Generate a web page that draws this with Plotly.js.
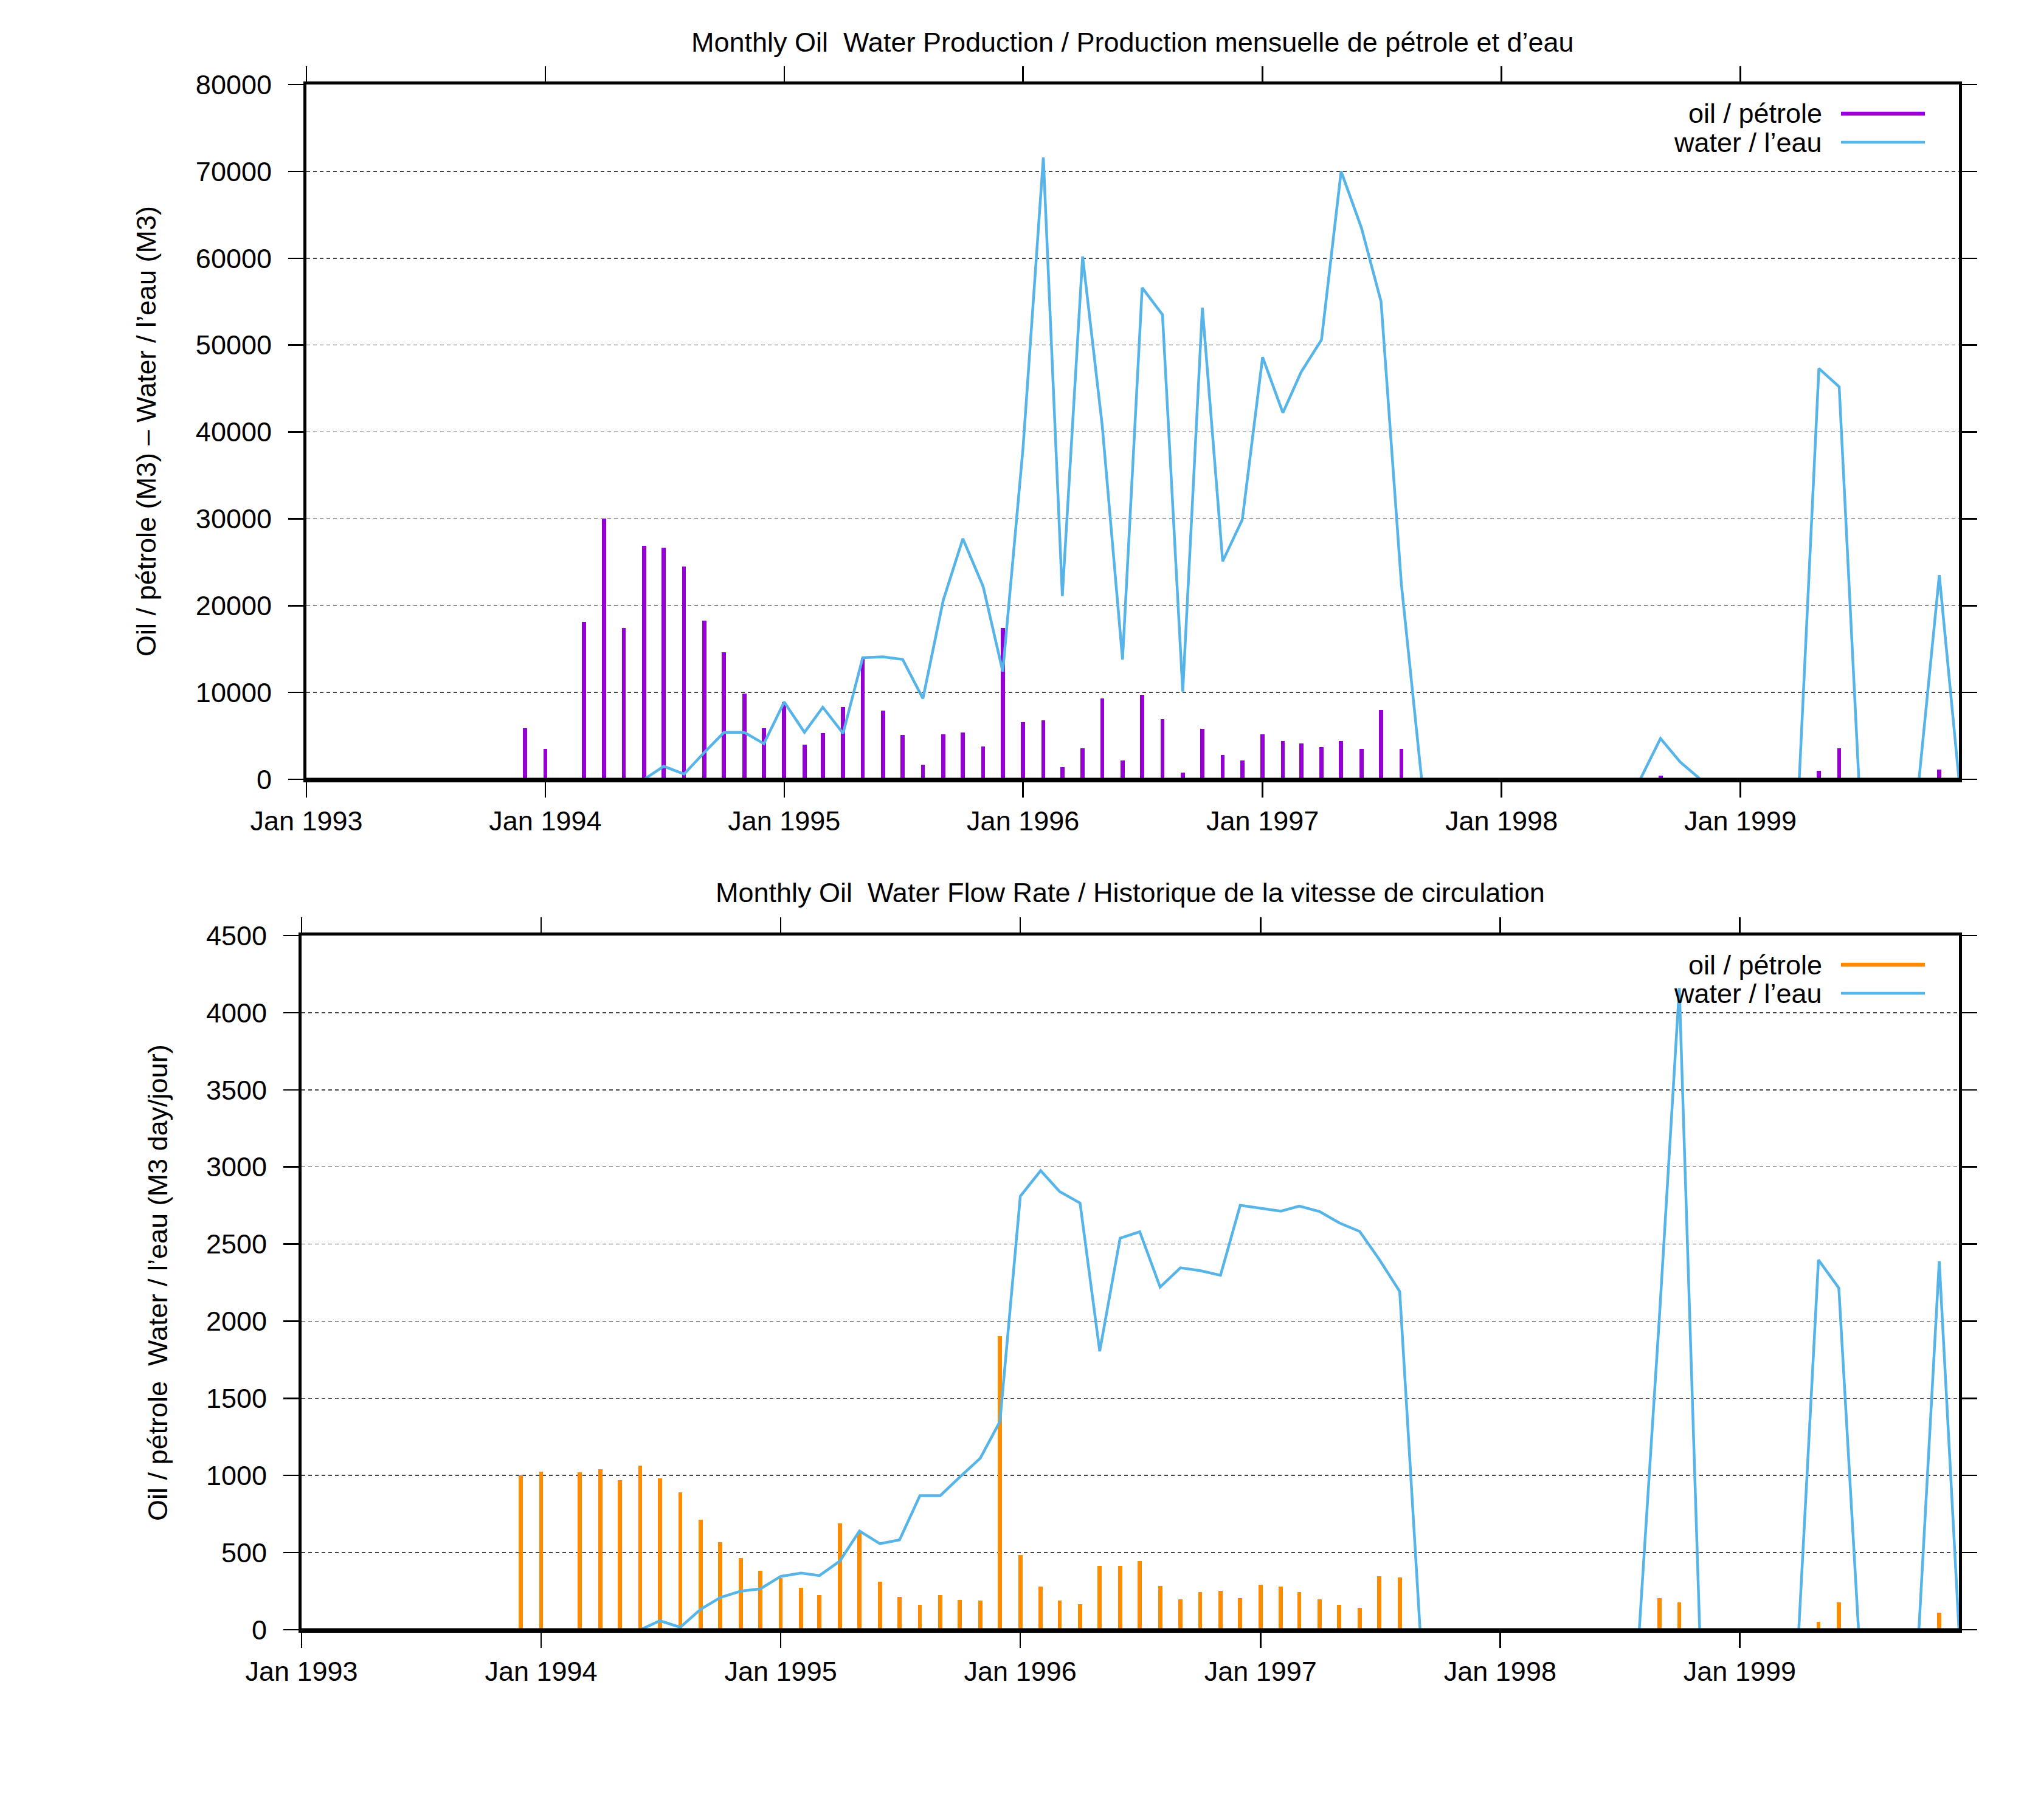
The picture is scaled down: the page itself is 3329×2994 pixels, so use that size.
<!DOCTYPE html>
<html>
<head>
<meta charset="utf-8">
<script src="https://cdn.plot.ly/plotly-3.0.1.min.js"></script>
<style>html,body{margin:0;padding:0;background:#fff;}#chart{width:3329px;height:2994px;}</style>
</head>
<body>
<div id="chart"></div>
<script>
var months = [
 '1993-12-01',
 '1994-01-01','1994-02-01','1994-03-01','1994-04-01','1994-05-01','1994-06-01','1994-07-01','1994-08-01','1994-09-01','1994-10-01','1994-11-01','1994-12-01',
 '1995-01-01','1995-02-01','1995-03-01','1995-04-01','1995-05-01','1995-06-01','1995-07-01','1995-08-01','1995-09-01','1995-10-01','1995-11-01','1995-12-01',
 '1996-01-01','1996-02-01','1996-03-01','1996-04-01','1996-05-01','1996-06-01','1996-07-01','1996-08-01','1996-09-01','1996-10-01','1996-11-01','1996-12-01',
 '1997-01-01','1997-02-01','1997-03-01','1997-04-01','1997-05-01','1997-06-01','1997-07-01','1997-08-01','1997-09-01','1997-10-01','1997-11-01','1997-12-01',
 '1998-01-01','1998-02-01','1998-03-01','1998-04-01','1998-05-01','1998-06-01','1998-07-01','1998-08-01','1998-09-01','1998-10-01','1998-11-01','1998-12-01',
 '1999-01-01','1999-02-01','1999-03-01','1999-04-01','1999-05-01','1999-06-01','1999-07-01','1999-08-01','1999-09-01','1999-10-01','1999-11-01','1999-12-01'
];

// Monthly production (M3)
var oilVolume = [
 5900,
 3500,0,18100,30000,17400,26900,26700,24500,18300,14600,9900,5900,
 8900,4000,5300,8300,14000,7900,5100,1700,5200,5400,3800,17400,
 6600,6800,1400,3600,9300,2200,9700,6900,800,5800,2800,2200,
 5200,4400,4100,3700,4400,3500,8000,3500,0,0,0,0,
 0,0,0,0,0,0,0,0,400,90,0,0,
 0,0,0,0,1000,3600,0,0,0,0,1100,0
];
var waterVolume = [
 null,
 null,null,null,null,null,0,1500,600,3100,5400,5400,4100,
 8900,5400,8300,5300,14000,14100,13800,9300,20600,27700,22200,12400,
 38200,71600,21100,60200,40700,13800,56600,53500,10100,54300,25100,29900,
 48600,42200,46900,50600,70000,63500,55000,22500,0,0,0,0,
 0,0,0,0,0,0,0,0,4700,2000,0,0,
 0,0,0,0,47300,45200,0,0,0,0,23500,0
];

// Monthly flow rate (M3 day/jour)
var oilRate = [
 1000,
 1025,0,1020,1040,968,1065,980,889,714,569,466,384,
 335,273,226,688,635,312,214,162,226,195,190,1903,
 484,280,188,164,414,414,444,282,199,243,254,204,
 291,278,243,199,160,140,346,337,0,0,0,0,
 0,0,0,0,0,0,0,0,206,176,0,0,
 0,0,0,0,50,176,0,0,0,0,112,0
];
var waterRate = [
 null,
 null,null,null,null,null,0,58,16,133,209,250,265,
 346,367,351,445,640,558,582,869,869,991,1112,1350,
 2810,2976,2840,2766,1805,2538,2580,2221,2346,2328,2298,2751,
 2733,2713,2746,2711,2637,2582,2400,2193,0,0,0,0,
 0,0,0,0,0,0,0,0,2050,4160,0,0,
 0,0,0,0,2397,2215,0,0,0,0,2388,0
];

var title1 = 'Monthly Oil \u00a0Water Production / Production mensuelle de pétrole et d’eau';
var title2 = 'Monthly Oil \u00a0Water Flow Rate / Historique de la vitesse de circulation';
var ytitle1 = 'Oil / pétrole (M3) – Water / l’eau (M3)';
var ytitle2 = 'Oil / pétrole \u00a0Water / l’eau (M3 day/jour)';
var legendOil = 'oil / pétrole';
var legendWater = 'water / l’eau';

var PURPLE = '#9400d3', BLUE = '#56b4e9', ORANGE = '#ff8c00';
var FONT = 'Liberation Sans, Arial, Helvetica, sans-serif';
var FS = 45;
var H = 2994, W = 3329;
function py(p){ return 1 - p / H; }
function px(p){ return p / W; }

var barW = 5.4e8;

var traces = [
 {type:'bar', x:months, y:oilVolume, xaxis:'x', yaxis:'y', width:barW,
  marker:{color:PURPLE, line:{width:0}}, showlegend:false},
 {type:'scatter', mode:'lines', x:months, y:waterVolume, xaxis:'x', yaxis:'y',
  line:{color:BLUE, width:4.5}, showlegend:false},
 {type:'bar', x:months, y:oilRate, xaxis:'x2', yaxis:'y2', width:barW,
  marker:{color:ORANGE, line:{width:0}}, showlegend:false},
 {type:'scatter', mode:'lines', x:months, y:waterRate, xaxis:'x2', yaxis:'y2',
  line:{color:BLUE, width:4.5}, showlegend:false}
];

function xAxis(dom, anchor){
  return {domain:dom, anchor:anchor, type:'date', range:['1993-01-01','1999-12-01'],
    tickformat:'%b %Y', dtick:'M12', tick0:'1993-01-01', ticks:'outside', ticklen:25, tickwidth:2.5,
    tickcolor:'#000', showline:true, linecolor:'#000', linewidth:5, mirror:'allticks',
    showgrid:false, zeroline:false, tickfont:{family:FONT, size:FS, color:'#000'}, automargin:false};
}
function yAxis(dom, anchor, rng, dt){
  return {domain:dom, anchor:anchor, range:rng, dtick:dt, tick0:0, tickformat:'d',
    ticks:'outside', ticklen:25, tickwidth:2.5, tickcolor:'#000', showline:true, linecolor:'#000',
    linewidth:5, mirror:'allticks', showgrid:true, gridcolor:'#444', gridwidth:1.5, griddash:'6px,5px',
    zeroline:false, ticklabelstandoff:18, tickfont:{family:FONT, size:FS, color:'#000'}, automargin:false};
}

var annFont = {family:FONT, size:FS, color:'#000'};
var annotations = [
 {text:title1, xref:'paper', yref:'paper', x:px(1863), y:py(70), xanchor:'center', yanchor:'middle', showarrow:false, font:annFont},
 {text:title2, xref:'paper', yref:'paper', x:px(1859), y:py(1468), xanchor:'center', yanchor:'middle', showarrow:false, font:annFont},
 {text:ytitle1, xref:'paper', yref:'paper', x:px(240), y:py(710), xanchor:'center', yanchor:'middle', textangle:-90, showarrow:false, font:annFont},
 {text:ytitle2, xref:'paper', yref:'paper', x:px(259), y:py(2110), xanchor:'center', yanchor:'middle', textangle:-90, showarrow:false, font:annFont},
 {text:legendOil, xref:'paper', yref:'paper', x:px(2999), y:py(187), xanchor:'right', yanchor:'middle', showarrow:false, font:annFont},
 {text:legendWater, xref:'paper', yref:'paper', x:px(2999), y:py(235), xanchor:'right', yanchor:'middle', showarrow:false, font:annFont},
 {text:legendOil, xref:'paper', yref:'paper', x:px(2999), y:py(1587), xanchor:'right', yanchor:'middle', showarrow:false, font:annFont},
 {text:legendWater, xref:'paper', yref:'paper', x:px(2999), y:py(1634), xanchor:'right', yanchor:'middle', showarrow:false, font:annFont}
];
function legLine(y, color, w){
  return {type:'line', xref:'paper', yref:'paper', x0:px(3028), x1:px(3166), y0:py(y), y1:py(y), line:{color:color, width:w}};
}
// baseline (x axis at zero) drawn over the traces, as in the reference
function baseLine(xref, yref){
  return {type:'line', xref:xref + ' domain', yref:yref, x0:0, x1:1, y0:0, y1:0, layer:'above', line:{color:'#000', width:5}};
}
var shapes = [
 legLine(187, PURPLE, 6.5), legLine(234, BLUE, 4.5),
 legLine(1587, ORANGE, 6.5), legLine(1634, BLUE, 4.5),
 baseLine('x', 'y'), baseLine('x2', 'y2')
];

var layout = {
  width:W, height:H, margin:{l:0, r:0, t:0, b:0}, paper_bgcolor:'#fff', plot_bgcolor:'#fff',
  showlegend:false, barmode:'overlay', bargap:0,
  font:{family:FONT, size:FS, color:'#000'},
  xaxis: xAxis([px(504), px(3222)], 'y'),
  yaxis: yAxis([py(1282), py(139)], 'x', [0, 80000], 10000),
  xaxis2: xAxis([px(496), px(3222)], 'y2'),
  yaxis2: yAxis([py(2681), py(1539)], 'x2', [0, 4500], 500),
  annotations: annotations, shapes: shapes
};

Plotly.newPlot('chart', traces, layout, {displayModeBar:false, staticPlot:true});
</script>
</body>
</html>
